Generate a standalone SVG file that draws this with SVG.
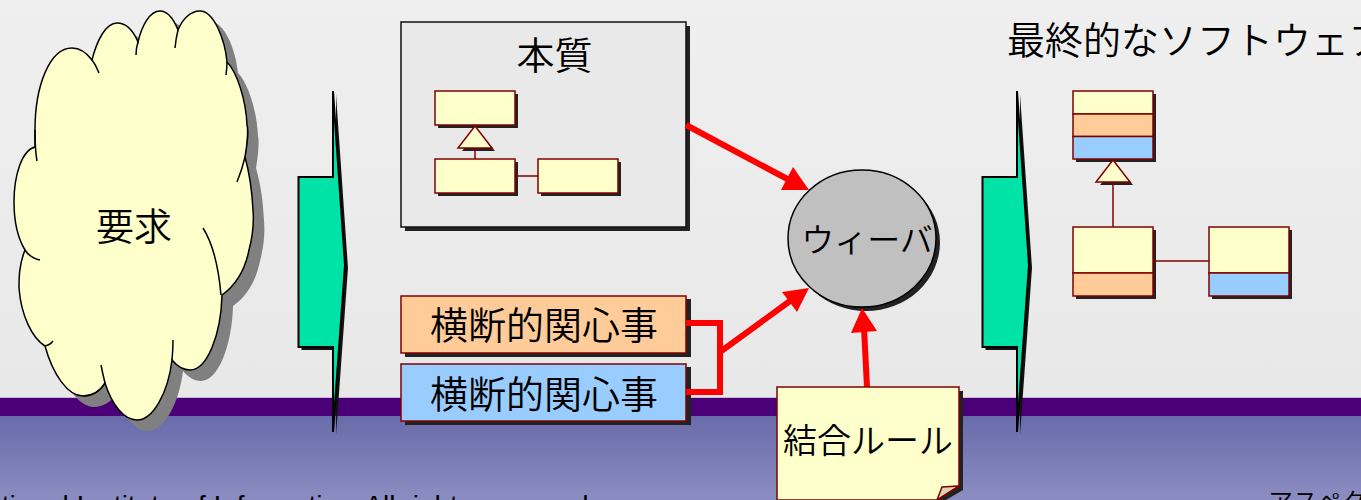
<svg xmlns="http://www.w3.org/2000/svg" width="1361" height="500" viewBox="0 0 1361 500">
<style>
text{font-family:"Noto Sans CJK JP","Liberation Sans",sans-serif;fill:#000;font-weight:350}
.uml{stroke:#800000;stroke-width:1.5}
.sh{fill:#222}
.y{fill:#ffffcc}.o{fill:#ffcc99}.b{fill:#99ccff}
.cl{fill:none;stroke:#000;stroke-width:1.5}
.red{fill:none;stroke:#f00;stroke-width:6}
</style>
<defs>
<linearGradient id="top" x1="0" y1="0" x2="0" y2="1"><stop offset="0" stop-color="#efefef"/><stop offset="1" stop-color="#e8e8e8"/></linearGradient>
<linearGradient id="low" x1="0" y1="0" x2="0" y2="1"><stop offset="0" stop-color="#696bab"/><stop offset="1" stop-color="#8b8dc2"/></linearGradient>
<path id="cloud" d="M35,147C22,150 14,175 14,202C14,225 19,240 25,250C19,265 19,278 19,288C21,315 32,338 45,346C53,375 68,396 83,396C92,396 100,391 105,383C112,405 124,420 137,420C153,420 168,393 172,360C177,366 183,370 190,370C207,370 221,335 222,295C236,285 245,270 249,250C253,235 254,222 253,210C252,190 250,175 245,157C248,140 248,128 247,125C246,100 237,72 227,62C225,40 214,11 200,11C190,11 182,20 178,30C174,20 168,11 160,11C150,11 142,25 138,42C133,30 126,23 117,23C106,23 97,40 92,60C86,52 80,48 72,48C50,48 35,85 35,130Z"/>
<path id="blockarrow" d="M298.500,177H333V91L345,265L333,432V347H298.500Z"/>
</defs>
<rect width="1361" height="397" fill="url(#top)"/>
<rect y="397" width="1361" height="1" fill="#c9b8d6"/>
<rect y="398" width="1361" height="18" fill="#4b0078"/>
<rect y="416" width="1361" height="84" fill="url(#low)"/>
<text x="-34" y="515" font-size="28" style="font-family:'Liberation Sans',sans-serif;font-weight:400">National Institute of Informatics. All rights reserved.</text>
<text x="1268" y="511" font-size="25">アスペクト</text>

<g id="requirement">
<use href="#cloud" x="11" y="11" fill="#808080"/>
<use href="#cloud" fill="#ffffcc" stroke="#000" stroke-width="1.5"/>
<path class="cl" d="M35,130Q35,150 37,161M92,60Q96,65 99,73M138,42Q136,48 136,55M178,30Q176,38 175,48M227,62Q227,68 226,75M245,157Q242,170 237,182M203,228Q217,250 221,295M25,250Q30,258 40,260M45,346Q50,345 53,341M105,383Q103,375 101,365M172,360Q173,350 173,340"/>
<text x="134" y="240" font-size="38" text-anchor="middle">要求</text>
</g>

<g id="arrow-left">
<use href="#blockarrow" x="3" y="3" fill="#111"/>
<use href="#blockarrow" fill="#00e3a6" stroke="#000" stroke-width="2"/>
</g>

<g id="essence">
<rect class="sh" x="405" y="26" width="285" height="205"/>
<rect x="401" y="22" width="285" height="205" fill="#e9e9e9" stroke="#111" stroke-width="1.5"/>
<text x="554.500" y="69" font-size="38" text-anchor="middle">本質</text>
<rect class="sh" x="438" y="94" width="80" height="34"/>
<rect class="sh" x="438" y="162" width="80" height="34"/>
<rect class="sh" x="541" y="162" width="80" height="34"/>
<path class="sh" d="M462,151H495L491,146H466Z"/>
<path class="uml" d="M475,148V159M515,176H538" fill="none"/>
<rect class="uml y" x="435" y="91" width="80" height="34"/>
<rect class="uml y" x="435" y="159" width="80" height="34"/>
<rect class="uml y" x="538" y="159" width="80" height="34"/>
<path class="uml y" d="M475,126L492,148H458Z"/>
</g>

<g id="concern-orange">
<rect class="sh" x="405" y="299" width="286" height="58"/>
<rect class="uml o" x="401" y="296" width="285" height="57"/>
<text x="544" y="339" font-size="38" text-anchor="middle">横断的関心事</text>
</g>
<g id="concern-blue">
<rect class="sh" x="405" y="367" width="286" height="58"/>
<rect class="uml b" x="401" y="364" width="285" height="57"/>
<text x="544" y="408" font-size="38" text-anchor="middle">横断的関心事</text>
</g>

<g id="weaver">
<ellipse cx="866" cy="242.500" rx="74" ry="68.500" fill="#222"/>
<ellipse cx="862" cy="238.500" rx="74" ry="68.500" fill="#c0c0c0" stroke="#000" stroke-width="1.500"/>
<text x="867" y="252" font-size="33" text-anchor="middle">ウィーバ</text>
</g>

<g id="connectors">
<path class="red" d="M686,125L793,182"/>
<path d="M809,190L793,167L781,190Z" fill="#f00"/>
<path class="red" d="M686,323H720V392H686M720,352L790,301"/>
<path d="M809,288L782,292L797,312Z" fill="#f00"/>
<path class="red" d="M867,387L864,328"/>
<path d="M862,308L851,333L877,331Z" fill="#f00"/>
</g>

<g id="rule">
<path class="sh" d="M781,391H963V490L941,503H781Z"/>
<path class="uml y" d="M777,387H959V486L937,500H777Z"/>
<path d="M942,487L959,486L937,500Z" fill="#d8d4b0" stroke="#800000" stroke-width="1.500"/>
<text x="868" y="453" font-size="34" text-anchor="middle">結合ルール</text>
</g>

<g id="arrow-right">
<use href="#blockarrow" x="687" y="3" fill="#111"/>
<use href="#blockarrow" x="684" fill="#00e3a6" stroke="#000" stroke-width="2"/>
</g>

<text id="result-title" x="1007" y="54" font-size="38">最終的なソフトウェア</text>

<g id="class-top">
<rect class="sh" x="1076" y="94" width="80" height="68"/>
<path class="sh" d="M1100,185H1133L1129,180H1104Z"/>
<path class="uml" d="M1113,182V227" fill="none"/>
<rect class="uml y" x="1073" y="91" width="80" height="23"/>
<rect class="uml o" x="1073" y="114" width="80" height="22.500"/>
<rect class="uml b" x="1073" y="136.500" width="80" height="22.500"/>
<path class="uml y" d="M1113,160L1130,182H1096Z"/>
</g>
<g id="class-left">
<rect class="sh" x="1076" y="230" width="80" height="69"/>
<rect class="uml y" x="1073" y="227" width="80" height="46"/>
<rect class="uml o" x="1073" y="273" width="80" height="23"/>
</g>
<g id="class-right">
<rect class="sh" x="1212" y="230" width="80" height="69"/>
<path class="uml" d="M1153,261H1209" fill="none"/>
<rect class="uml y" x="1209" y="227" width="80" height="46"/>
<rect class="uml b" x="1209" y="273" width="80" height="23"/>
</g>
</svg>
